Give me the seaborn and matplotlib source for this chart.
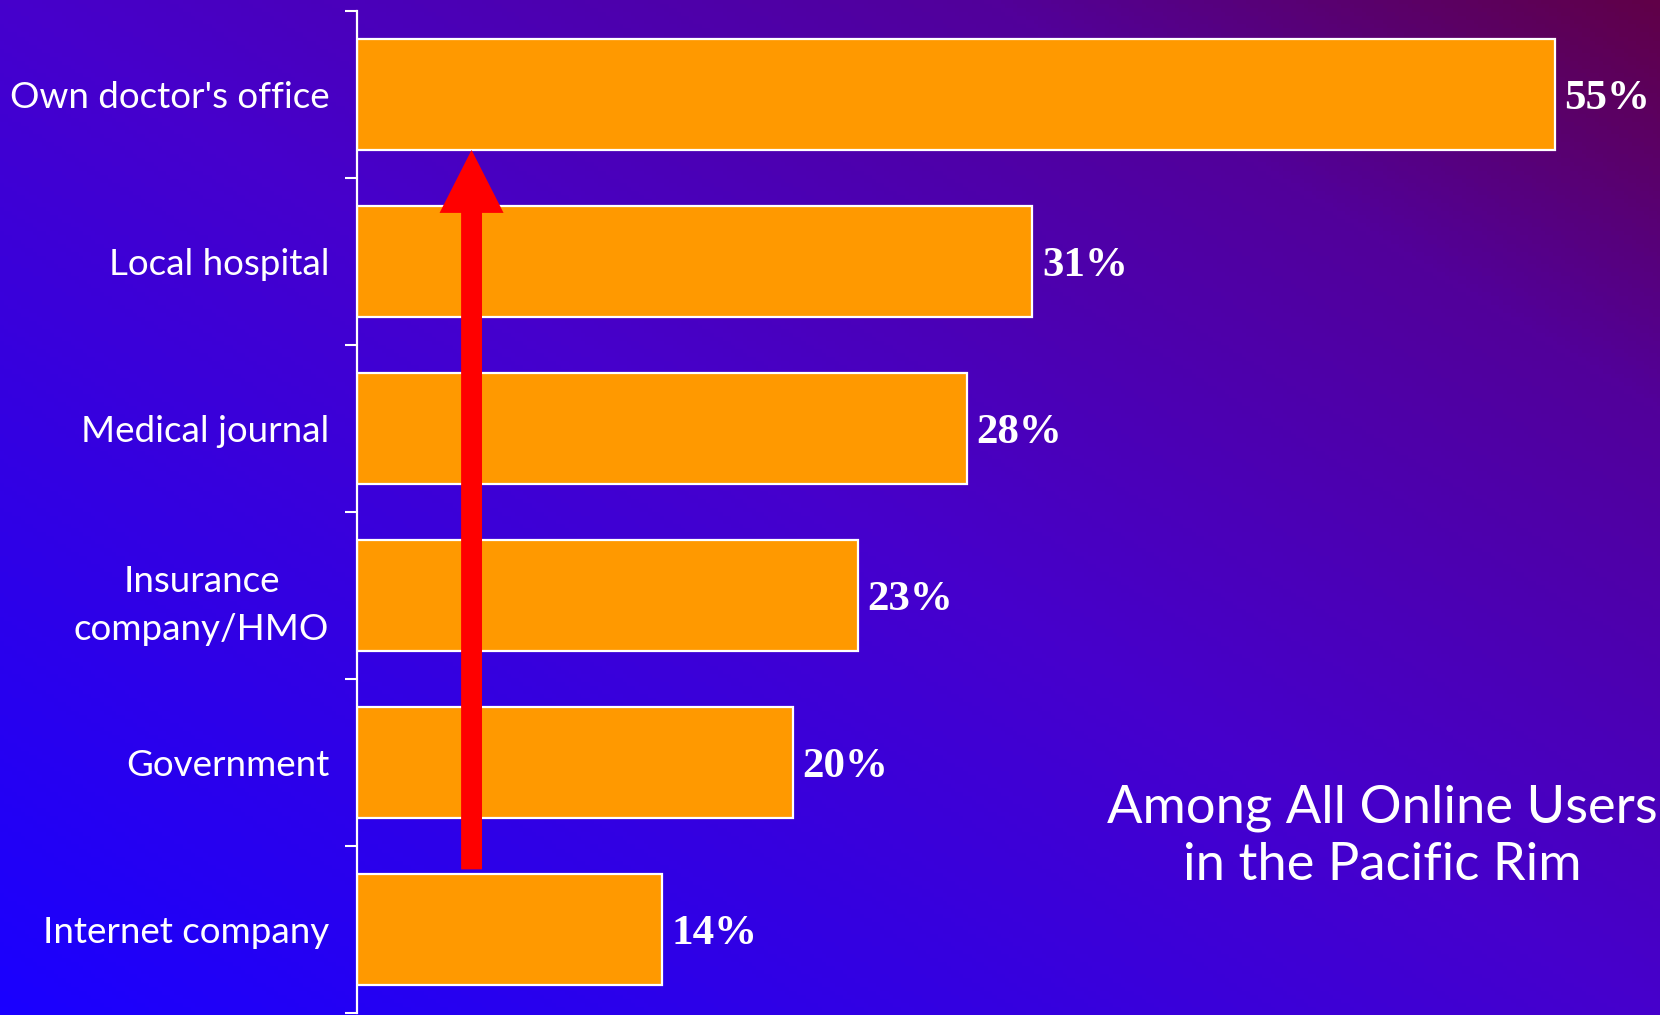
import numpy as np
import pandas as pd
import matplotlib
matplotlib.use("Agg")
import matplotlib.pyplot as plt
from matplotlib.colors import LinearSegmentedColormap
from matplotlib.patches import FancyArrow
import seaborn as sns

# Survey data: trusted sources of online health information
categories = [
    "Own doctor's office",
    "Local hospital",
    "Medical journal",
    "Insurance\ncompany/HMO",
    "Government",
    "Internet company",
]
shares = [55, 31, 28, 23, 20, 14]
value_labels = ["55%", "31%", "28%", "23%", "20%", "14%"]
subtitle = "Among All Online Users\nin the Pacific Rim"

df = pd.DataFrame({"source": categories, "share": shares})

sns.set_theme(style="white")
plt.rcParams["font.family"] = ["Lato", "DejaVu Sans"]

W, H = 1660, 1015
fig = plt.figure(figsize=(W / 100, H / 100), dpi=100)

# Diagonal background gradient: vivid blue (bottom-left) to plum (top-right)
bg_ax = fig.add_axes([0, 0, 1, 1], zorder=0)
xx, yy = np.meshgrid(np.linspace(0, 1, 400), np.linspace(0, 1, 250))
t = (xx + yy) / 2.0
bg_cmap = LinearSegmentedColormap.from_list(
    "bg", [(0.0, "#1a00ff"), (0.5, "#4600cc"), (0.8, "#52009a"), (1.0, "#600048")]
)
bg_ax.imshow(t, cmap=bg_cmap, aspect="auto", extent=[0, 1, 0, 1],
             origin="lower", vmin=0, vmax=1)
bg_ax.axis("off")

ax = fig.add_axes([357 / W, 2 / H, 1 - 357 / W, 1002 / H], zorder=1)
ax.patch.set_alpha(0)

sns.barplot(data=df, y="source", x="share", orient="h", color="#ff9900",
            saturation=1, edgecolor="white", linewidth=1.6, width=0.67, ax=ax)

ax.set_xlim(0, (W - 357) / 21.78)
ax.set_ylim(len(categories) - 0.5, -0.5)
ax.set_xlabel("")
ax.set_ylabel("")
ax.set_xticks([])

for side in ("top", "right", "bottom"):
    ax.spines[side].set_visible(False)
ax.spines["left"].set_color("white")
ax.spines["left"].set_linewidth(1.6)

# Category labels sit between boundary ticks
ax.set_yticks(range(len(categories)))
ax.set_yticklabels(categories, color="white", fontsize=26.5,
                   multialignment="center", linespacing=1.55)
ax.tick_params(axis="y", which="major", length=0, pad=20)
ax.set_yticks(np.arange(-0.5, len(categories), 1.0), minor=True)
ax.tick_params(axis="y", which="minor", length=8.6, width=1.5, color="white", left=True)

# Value labels at bar ends
for i, (v, lab) in enumerate(zip(shares, value_labels)):
    ax.annotate(lab, xy=(v, i), xytext=(7, 0), textcoords="offset points",
                ha="left", va="center_baseline", color="white", fontsize=31,
                fontweight="bold", family=["Liberation Serif", "DejaVu Serif"],
                annotation_clip=False)

# Upward red arrow across the bars
arrow = FancyArrow(5.26, 4.64, 0, 0.332 - 4.64, width=0.96, head_width=2.94,
                   head_length=0.377, length_includes_head=True,
                   color="#ff0000", linewidth=0, zorder=5)
ax.add_patch(arrow)

# Baseline of the last line of the note
fig.text(1382 / W, (H - 880) / H, subtitle, ha="center", va="baseline",
         color="white", fontsize=37.8, linespacing=1.26)

fig.savefig("out.png", dpi=100)
